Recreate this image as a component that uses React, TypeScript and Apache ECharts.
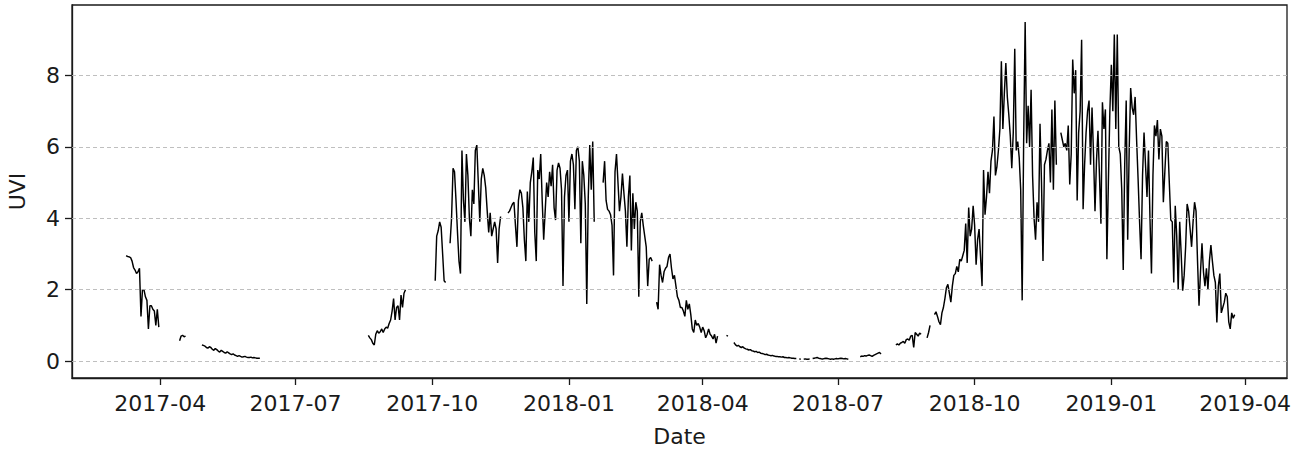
import React, { useEffect, useRef } from 'react';
import * as echarts from 'echarts';

// Start date of each contiguous block of daily UVI readings
const segmentStarts = [
  '2017-03-09', '2017-04-14', '2017-04-29', '2017-08-19', '2017-10-03',
  '2017-10-13', '2018-04-17', '2018-04-22', '2018-08-09',
];

const uviMar2017 = [2.95, 2.93, 2.92, 2.9, 2.8, 2.62, 2.55, 2.45, 2.5, 2.6, 1.25, 2.0, 2.0, 1.8, 1.7, 0.9, 1.55, 1.55, 1.45, 1.4, 1.0, 1.45, 0.95];
const uviApr2017 = [0.57, 0.7, 0.72, 0.68, 0.7];
const uviMayJun2017 = [0.45, 0.44, 0.42, 0.38, 0.36, 0.4, 0.38, 0.33, 0.3, 0.35, 0.32, 0.28, 0.25, 0.3, 0.27, 0.24, 0.22, 0.26, 0.23, 0.2, 0.18, 0.2, 0.17, 0.15, 0.13, 0.15, 0.13, 0.11, 0.12, 0.13, 0.11, 0.1, 0.1, 0.11, 0.09, 0.1, 0.09, 0.08, 0.08, 0.08];
const uviAugSep2017 = [0.72, 0.65, 0.6, 0.5, 0.45, 0.75, 0.85, 0.78, 0.82, 0.9, 0.8, 0.9, 0.95, 0.92, 1.05, 1.15, 1.4, 1.75, 1.15, 1.5, 1.55, 1.15, 1.85, 1.5, 1.9, 2.0];
const uviEarlyOct2017 = [2.25, 3.5, 3.65, 3.9, 3.75, 3.0, 2.25, 2.2];
const uviSummer2017 = [
  3.3, 4.0, 5.4, 5.3, 4.5, 3.6, 2.8, 2.45, 5.9, 4.5,
  3.9, 5.8, 5.2, 4.0, 3.5, 4.8, 4.4, 5.9, 6.05, 5.0,
  3.9, 5.1, 5.4, 5.2, 4.85, 4.2, 3.6, 4.15, 3.5, 3.7,
  3.9, 3.7, 2.75, 3.7, 4.05, null, null, null, null, 4.15,
  4.2, 4.3, 4.4, 4.45, 3.8, 3.2, 4.5, 4.8, 4.7, 4.3,
  3.4, 2.8, 4.75, 3.9, 5.0, 5.3, 5.7, 3.6, 2.8, 5.35,
  5.1, 5.8, 4.5, 3.4, 4.2, 5.0, 4.6, 5.3, 4.9, 5.5,
  4.3, 3.95, 5.35, 5.55, 5.4, 4.8, 2.1, 4.6, 5.2, 5.35,
  3.9, 5.6, 5.8, 5.5, 4.25, 5.9, 6.0, 5.6, 3.3, 5.6,
  5.2, 4.4, 1.6, 4.6, 6.05, 4.8, 6.15, 3.9, null, null,
  null, null, null, 5.0, 5.6, 4.5, 4.25, 4.2, 4.1, 3.8,
  2.4, 5.3, 5.8, 5.0, 4.2, 4.6, 5.25, 4.7, 4.2, 3.2,
  4.6, 5.2, 3.1, 4.7, 3.7, 4.45, 4.2, 1.8, 3.9, 4.15,
  3.8, 3.5, 3.2, 2.1, 2.85, 2.9, 2.8, null, null, 1.65,
  1.45, 2.7, 2.4, 2.2, 2.5, 2.6, 2.65, 2.9, 3.0, 2.6,
  2.3, 2.4, 2.1, 1.8, 1.7, 1.5, 1.5, 1.4, 1.25, 1.7,
  1.45, 1.6, 1.3, 0.9, 0.8, 1.15, 1.0, 1.05, 0.95, 0.8,
  0.95, 0.85, 0.65, 0.75, 0.9, 0.75, 0.7, 0.62, 0.75, 0.5,
  0.7,
];
const uviMidApr2018 = [0.72, 0.7];
const uviWinter2018 = [
  0.52, 0.46, 0.42, 0.44, 0.4, 0.38, 0.4, 0.36, 0.34, 0.33,
  0.31, 0.32, 0.29, 0.28, 0.26, 0.27, 0.24, 0.25, 0.22, 0.21,
  0.2, 0.18, 0.19, 0.17, 0.16, 0.15, 0.16, 0.14, 0.13, 0.13,
  0.12, 0.12, 0.11, 0.12, 0.1, 0.1, 0.09, 0.1, 0.09, 0.08,
  0.08, 0.07, 0.07, null, 0.06, 0.05, null, 0.05, 0.06, 0.05,
  0.05, 0.06, null, 0.07, 0.08, 0.09, 0.1, 0.08, 0.07, 0.06,
  0.06, 0.07, 0.08, 0.07, 0.06, 0.05, 0.06, 0.05, 0.06, 0.07,
  0.06, 0.07, 0.08, 0.07, 0.06, 0.07, 0.06, 0.05, null, null,
  null, null, null, null, null, 0.12, 0.14, 0.13, 0.15, 0.14,
  0.16, 0.17, 0.15, 0.13, 0.16, 0.18, 0.2, 0.22, 0.24, 0.2,
];
const uviSummer2018 = [
  0.45, 0.48, 0.45, 0.5, 0.52, 0.55, 0.5, 0.6, 0.62, 0.58,
  0.7, 0.72, 0.38, 0.8, 0.75, 0.7, 0.78, 0.75, null, null,
  null, 0.65, 0.8, 1.0, null, null, 1.3, 1.38, 1.25, 1.1,
  1.02, 1.35, 1.5, 1.75, 2.05, 2.15, 1.9, 1.65, 2.1, 2.4,
  2.45, 2.65, 2.5, 2.85, 2.8, 2.95, 3.1, 3.85, 2.75, 4.3,
  3.5, 3.7, 4.35, 3.8, 2.7, 3.4, 3.7, 2.9, 2.1, 5.35,
  4.1, 4.6, 5.3, 4.7, 5.6, 5.9, 6.85, 5.2, 5.45, 5.9,
  6.5, 8.4, 6.5, 7.5, 8.35, 7.4, 6.9, 6.3, 5.4, 6.4,
  8.75, 5.9, 6.15, 5.7, 4.8, 1.7, 6.2, 9.5, 6.1, 7.15,
  6.0, 7.6, 5.2, 4.0, 3.4, 4.45, 3.9, 6.65, 5.0, 2.8,
  5.5, 5.65, 5.9, 6.1, 5.0, 7.05, 4.8, 7.3, 5.5, null,
  null, 6.4, 6.2, 6.0, 6.1, 5.9, 6.6, 4.95, 5.8, 8.45,
  7.5, 8.15, 4.5, 6.4, 7.0, 9.0, 4.25, 5.5, 6.4, 7.0,
  7.3, 5.5, 7.1, 5.8, 4.2, 5.6, 6.45, 5.2, 3.85, 7.25,
  6.5, 7.05, 2.85, 5.0, 7.0, 8.3, 7.0, 9.15, 6.5, 9.15,
  6.0, 5.8, 4.8, 2.55, 5.5, 7.3, 3.4, 5.9, 7.65, 7.1,
  6.9, 7.4, 6.2, 5.1, 3.9, 2.85, 5.2, 6.4, 5.5, 4.6,
  5.9, 4.0, 2.45, 5.2, 6.6, 6.3, 6.75, 5.65, 6.5, 6.3,
  4.45, 5.3, 6.15, 6.1, 5.0, 3.95, 3.9, 2.2, 4.35, 3.5,
  2.0, 3.9, 3.0, 1.97, 2.4, 3.2, 4.4, 4.2, 3.7, 3.2,
  3.9, 4.45, 4.2, 2.8, 1.55, 2.5, 3.3, 2.5, 2.1, 2.6,
  2.0, 2.8, 3.25, 2.8, 2.4, 2.2, 1.08, 2.1, 2.45, 1.35,
  1.5, 1.65, 1.9, 1.8, 1.1, 0.9, 1.35, 1.2, 1.3,
];

const segments = [
  uviMar2017, uviApr2017, uviMayJun2017, uviAugSep2017, uviEarlyOct2017,
  uviSummer2017, uviMidApr2018, uviWinter2018, uviSummer2018,
];

const xTickLabels = ['2017-04', '2017-07', '2017-10', '2018-01', '2018-04', '2018-07', '2018-10', '2019-01', '2019-04'];
const yTicks = [0, 2, 4, 6, 8];

const DAY = 86400000;
const X_MIN = Date.parse('2017-01-31T14:00:00Z');
const X_MAX = Date.parse('2019-04-29T05:00:00Z');

function buildData() {
  const out: any[] = [];
  segments.forEach((vals, i) => {
    const t0 = Date.parse(segmentStarts[i] + 'T00:00:00Z');
    vals.forEach((v, k) => out.push([t0 + k * DAY, v == null ? '-' : v]));
    out.push([t0 + vals.length * DAY, '-']);
  });
  return out;
}

const FONT = 'DejaVu Sans';
const INK = '#1a1a1a';

export default function App() {
  const ref = useRef<HTMLDivElement>(null);
  useEffect(() => {
    if (!ref.current) return;
    const chart = echarts.init(ref.current, null, { renderer: 'svg' });
    const xTickValues = xTickLabels.map((s) => Date.parse(s + '-01T00:00:00Z'));
    chart.setOption({
      animation: false,
      backgroundColor: '#ffffff',
      textStyle: { fontFamily: FONT },
      grid: {
        left: 72, right: 10, top: 5, bottom: 71,
        containLabel: false,
        outerBoundsMode: 'none',
        show: true, borderColor: INK, borderWidth: 1.3, backgroundColor: 'transparent',
      },
      xAxis: {
        type: 'value',
        min: X_MIN,
        max: X_MAX,
        name: 'Date',
        nameLocation: 'middle',
        nameGap: 47,
        nameTextStyle: { fontFamily: FONT, fontSize: 22, color: INK },
        axisLine: { show: true, onZero: false, lineStyle: { color: INK, width: 1.3 } },
        axisTick: { show: true, length: 7, customValues: xTickValues, lineStyle: { color: INK, width: 1.3 } },
        axisLabel: {
          customValues: xTickValues,
          margin: 14,
          fontFamily: FONT,
          fontSize: 22,
          color: INK,
          formatter: (v: number) => {
            const d = new Date(v);
            return `${d.getUTCFullYear()}-${String(d.getUTCMonth() + 1).padStart(2, '0')}`;
          },
        },
        splitLine: { show: false },
      },
      yAxis: {
        type: 'value',
        min: -0.475,
        max: 9.975,
        name: 'UVI',
        nameLocation: 'middle',
        nameGap: 44,
        nameTextStyle: { fontFamily: FONT, fontSize: 22, color: INK },
        axisLine: { show: true, onZero: false, lineStyle: { color: INK, width: 1.3 } },
        axisTick: { show: true, length: 7, customValues: yTicks, lineStyle: { color: INK, width: 1.3 } },
        axisLabel: { customValues: yTicks, margin: 12, fontFamily: FONT, fontSize: 22, color: INK },
        splitLine: { show: false },
      },
      series: [
        {
          name: 'grid',
          type: 'line',
          data: [],
          silent: true,
          z: 1,
          markLine: {
            silent: true,
            symbol: ['none', 'none'],
            label: { show: false },
            lineStyle: { color: '#b8b8b8', type: [4, 3], width: 0.9 },
            data: yTicks.map((v) => ({ yAxis: v })),
          },
        },
        {
          name: 'UVI',
          type: 'line',
          data: buildData(),
          showSymbol: false,
          symbol: 'none',
          connectNulls: false,
          z: 3,
          lineStyle: { color: '#000000', width: 1.45 },
        },
      ],
    });
    return () => chart.dispose();
  }, []);
  return <div ref={ref} style={{ position: 'absolute', left: 0, top: 0, width: 1297, height: 449, background: '#fff' }} />;
}
